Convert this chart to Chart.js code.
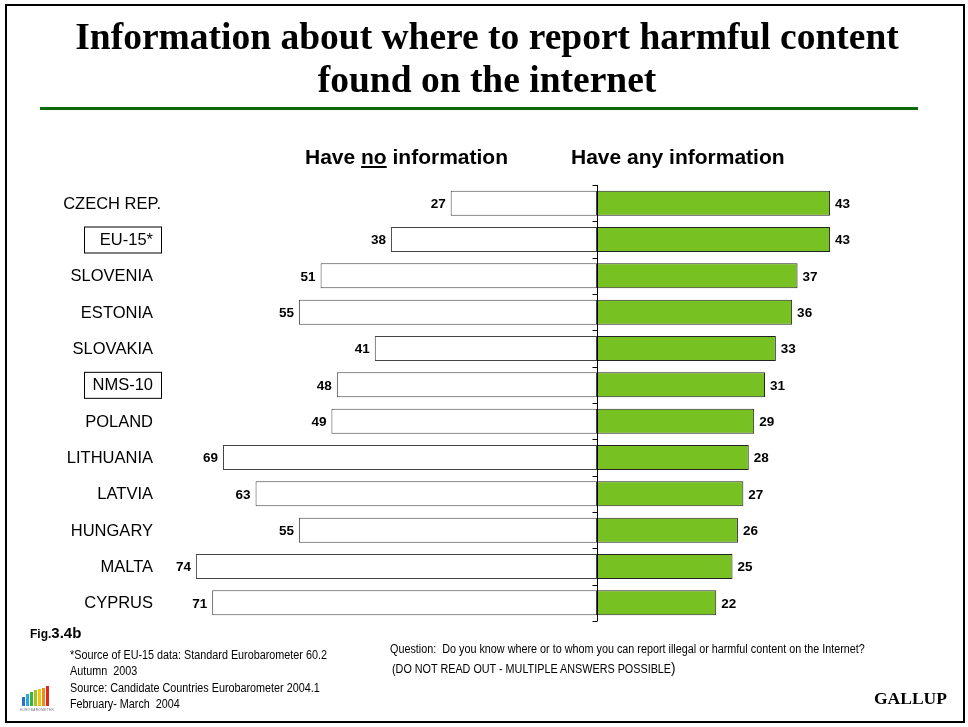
<!DOCTYPE html>
<html>
<head>
<meta charset="utf-8">
<script src="https://cdn.jsdelivr.net/npm/chart.js@4.4.1/dist/chart.umd.min.js"></script>
<style>
  html, body { margin: 0; padding: 0; background: #fff; }
  #page { position: relative; width: 968px; height: 727px; overflow: hidden; }
  #frame { position: absolute; left: 5px; top: 4px; width: 956px; height: 715px; border: 2px solid #000; }
  #myChart { position: absolute; left: 0; top: 0; }
  .t { position: absolute; white-space: nowrap; color: #000; }
  #title { left: 0; width: 974px; top: 15px; text-align: center; font: bold 37.5px "Liberation Serif", "Times New Roman", serif; line-height: 43px; }
  #rule { position: absolute; left: 40px; top: 107px; width: 878px; height: 3px; background: #0b6a0b; }
  .head { font: bold 21px "Liberation Sans", Arial, sans-serif; top: 145px; }
  .narrow { font: 12px "Liberation Sans", Arial, sans-serif; transform: scaleX(0.9); transform-origin: left top; }
  #logo { position: absolute; left: 22px; top: 686px; width: 28px; height: 26px; }
  #logo span { position: absolute; bottom: 6px; width: 3px; }
</style>
</head>
<body>
<div id="page">
  <canvas id="myChart" width="968" height="727"></canvas>
  <div id="frame"></div>
  <div class="t" id="title">Information about where to report harmful content<br>found on the internet</div>
  <div id="rule"></div>
  <div class="t head" style="left:305px">Have <u>no</u> information</div>
  <div class="t head" style="left:571px">Have any information</div>

  <div class="t" style="left:30px; top:624px; font: bold 12px 'Liberation Sans', Arial, sans-serif;">Fig.<span style="font-size:15px">3.4b</span></div>
  <div class="t narrow" style="left:70px; top:648px;">*Source of EU-15 data: Standard Eurobarometer 60.2</div>
  <div class="t narrow" style="left:70px; top:664px;">Autumn&nbsp; 2003</div>
  <div class="t narrow" style="left:70px; top:681px;">Source: Candidate Countries Eurobarometer 2004.1</div>
  <div class="t narrow" style="left:70px; top:697px;">February- March&nbsp; 2004</div>
  <div class="t narrow" style="left:390px; top:642px;">Question:&nbsp; Do you know where or to whom you can report illegal or harmful content on the Internet?</div>
  <div class="t narrow" style="left:392px; top:659px;">(DO NOT READ OUT - MULTIPLE ANSWERS POSSIBLE<span style="font-size:15px">)</span></div>
  <div class="t" style="left:874px; top:688px; font: bold 17.5px 'Liberation Serif', 'Times New Roman', serif;">GALLUP</div>

  <div id="logo">
    <span style="left:0px; height:9px; background:#2a6fd1"></span>
    <span style="left:4px; height:12px; background:#27a9d8"></span>
    <span style="left:8px; height:14px; background:#3fb23a"></span>
    <span style="left:12px; height:16px; background:#a4c61a"></span>
    <span style="left:16px; height:17px; background:#f2c313"></span>
    <span style="left:20px; height:18px; background:#f08a1c"></span>
    <span style="left:24px; height:20px; background:#e1261c"></span>
    <div style="position:absolute; left:-2px; bottom:0; font: 3px 'Liberation Sans', Arial, sans-serif; color:#666; letter-spacing:0.5px;">EUROBAROMETER</div>
  </div>
</div>

<script>
const countries = ["CZECH REP.", "EU-15*", "SLOVENIA", "ESTONIA", "SLOVAKIA", "NMS-10",
  "POLAND", "LITHUANIA", "LATVIA", "HUNGARY", "MALTA", "CYPRUS"];
const noInfo = [27, 38, 51, 55, 41, 48, 49, 69, 63, 55, 74, 71];
const anyInfo = [43, 43, 37, 36, 33, 31, 29, 28, 27, 26, 25, 22];
const boxed = ["EU-15*", "NMS-10"];

// country names on the left, with a frame around the averages
const categoryLabels = {
  id: "categoryLabels",
  afterDraw(chart) {
    const ctx = chart.ctx;
    const y = chart.scales.y;
    ctx.save();
    ctx.font = "16.5px 'Liberation Sans', Arial, sans-serif";
    ctx.fillStyle = "#000";
    ctx.textBaseline = "middle";
    countries.forEach((name, i) => {
      const py = y.getPixelForValue(i);
      if (i === 0) {
        // first row sits a little further right
        ctx.textAlign = "right";
        ctx.fillText(name, 161, py + 1);
      } else {
        ctx.textAlign = "right";
        ctx.fillText(name, 153, py + 1);
      }
      if (boxed.includes(name)) {
        ctx.strokeStyle = "#000";
        ctx.lineWidth = 1;
        ctx.strokeRect(84.5, py - 12.5, 77, 26);
      }
    });
    ctx.restore();
  }
};

// centre axis with small ticks between the rows
const centreAxis = {
  id: "centreAxis",
  afterDatasetsDraw(chart) {
    const ctx = chart.ctx;
    const x0 = Math.round(chart.scales.x.getPixelForValue(0)) + 0.5;
    const top = chart.chartArea.top, bottom = chart.chartArea.bottom;
    const step = (bottom - top) / countries.length;
    ctx.save();
    ctx.strokeStyle = "#000";
    ctx.lineWidth = 1;
    ctx.beginPath();
    ctx.moveTo(x0, top);
    ctx.lineTo(x0, bottom);
    for (let i = 0; i <= countries.length; i++) {
      const ty = Math.round(top + i * step) + 0.5;
      ctx.moveTo(x0 - 5, ty);
      ctx.lineTo(x0, ty);
    }
    ctx.stroke();
    ctx.restore();
  }
};

// numbers at the end of each bar
const valueLabels = {
  id: "valueLabels",
  afterDatasetsDraw(chart) {
    const ctx = chart.ctx;
    ctx.save();
    ctx.font = "bold 13.5px 'Liberation Sans', Arial, sans-serif";
    ctx.fillStyle = "#000";
    ctx.textBaseline = "middle";
    chart.data.datasets.forEach((ds, di) => {
      const meta = chart.getDatasetMeta(di);
      meta.data.forEach((bar, i) => {
        const v = Math.abs(ds.data[i]);
        if (ds.data[i] < 0) {
          ctx.textAlign = "right";
          ctx.fillText(v, bar.x - 5, bar.y + 1);
        } else {
          ctx.textAlign = "left";
          ctx.fillText(v, bar.x + 5, bar.y + 1);
        }
      });
    });
    ctx.restore();
  }
};

const myChart = document.querySelector("#myChart");
let chart = new Chart(myChart, {
  type: "bar",
  data: {
    labels: countries,
    datasets: [
      {
        label: "Have no information",
        data: noInfo.map((v) => -v),
        backgroundColor: "#ffffff",
        borderColor: "#444444",
        borderWidth: 1,
        borderSkipped: false,
        barPercentage: 0.69,
        categoryPercentage: 1,
      },
      {
        label: "Have any information",
        data: anyInfo,
        backgroundColor: "#78c123",
        borderColor: "#222222",
        borderWidth: 1,
        borderSkipped: false,
        barPercentage: 0.69,
        categoryPercentage: 1,
      },
    ],
  },
  options: {
    indexAxis: "y",
    responsive: false,
    animation: false,
    layout: { padding: { left: 163.4, right: 100, top: 185, bottom: 106 } },
    plugins: {
      legend: { display: false },
      tooltip: { enabled: false },
    },
    scales: {
      x: {
        stacked: true,
        min: -80,
        max: 50,
        display: false,
      },
      y: {
        stacked: true,
        display: false,
      },
    },
  },
  plugins: [categoryLabels, centreAxis, valueLabels],
});
</script>
</body>
</html>
